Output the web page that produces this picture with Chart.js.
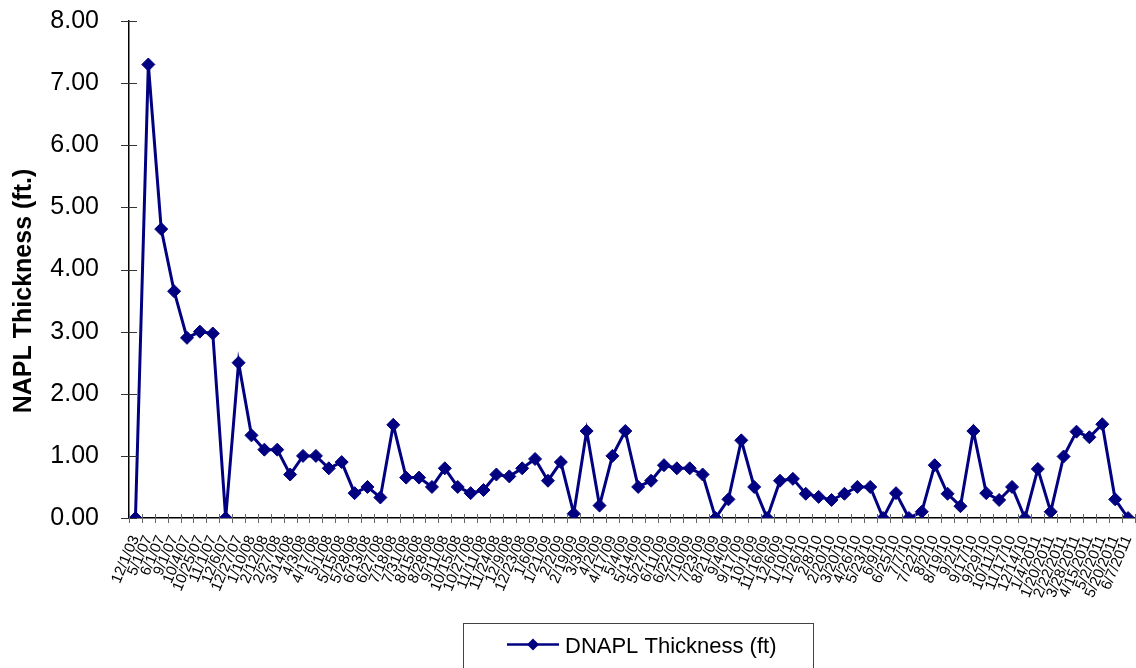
<!DOCTYPE html>
<html>
<head>
<meta charset="utf-8">
<script src="https://cdn.jsdelivr.net/npm/chart.js@4.4.1/dist/chart.umd.min.js"></script>
<style>
  html, body { margin: 0; padding: 0; background: #fff; overflow: hidden; }
  #wrap { width: 1142px; height: 668px; }
</style>
</head>
<body>
<div id="wrap"><canvas id="grafico" width="1142" height="668"></canvas></div>
<script>
// Datas das medições (eixo X)
const datas = [
  '12/1/03', '5/1/07', '6/1/07', '9/1/07', '10/4/07', '10/25/07', '11/1/07', '12/6/07', '12/27/07',
  '1/10/08', '2/12/08', '2/27/08', '3/14/08', '4/3/08', '4/17/08', '5/1/08', '5/15/08', '5/28/08',
  '6/13/08', '6/27/08', '7/18/08', '7/31/08', '8/15/08', '8/28/08', '9/11/08', '10/15/08', '10/27/08',
  '11/11/08', '11/24/08', '12/9/08', '12/23/08', '1/6/09', '1/21/09', '2/2/09', '2/19/09', '3/3/09',
  '4/2/09', '4/17/09', '5/4/09', '5/14/09', '5/27/09', '6/11/09', '6/22/09', '7/10/09', '7/23/09',
  '8/21/09', '9/4/09', '9/17/09', '10/1/09', '11/16/09', '12/6/09', '1/10/10', '1/26/10', '2/8/10',
  '2/20/10', '3/20/10', '4/26/10', '5/23/10', '6/9/10', '6/25/10', '7/7/10', '7/22/10', '8/2/10',
  '8/19/10', '9/2/10', '9/17/10', '9/29/10', '10/11/10', '11/17/10', '12/14/10', '1/4/2011',
  '1/20/2011', '2/22/2011', '3/28/2011', '4/15/2011', '5/2/2011', '5/20/2011', '6/7/2011'
];

// Espessura de DNAPL (ft)
const espessura = [
  0, 7.3, 4.65, 3.65, 2.9, 3.0, 2.97, 0, 2.5,
  1.33, 1.1, 1.1, 0.7, 1.0, 1.0, 0.8, 0.9, 0.4,
  0.5, 0.33, 1.5, 0.65, 0.65, 0.5, 0.8, 0.5, 0.4,
  0.45, 0.7, 0.67, 0.8, 0.95, 0.6, 0.9, 0.07, 1.4,
  0.2, 1.0, 1.4, 0.5, 0.6, 0.85, 0.8, 0.8, 0.7,
  0, 0.3, 1.25, 0.5, 0, 0.6, 0.63, 0.39, 0.34,
  0.29, 0.39, 0.5, 0.5, 0, 0.4, 0, 0.1, 0.85,
  0.39, 0.19, 1.4, 0.4, 0.29, 0.5, 0, 0.79,
  0.1, 0.99, 1.39, 1.3, 1.51, 0.3, 0
];

// Eixo Y
const yMin = 0;
const yMax = 8;
const yPasso = 1;

const tituloY = 'NAPL Thickness (ft.)';
const nomeSerie = 'DNAPL Thickness (ft)';
const corSerie = '#000080';
const fonte = 'Arial, "Liberation Sans", sans-serif';

// Marcas dos eixos cruzando a linha (estilo Excel) + título Y + legenda com borda
const extrasPlugin = {
    id: 'extras',
    afterDraw(chart) {
        const ctx = chart.ctx;
        const area = chart.chartArea;
        const x = chart.scales.x;
        const y = chart.scales.y;
        ctx.save();

        // marcas do eixo Y
        ctx.strokeStyle = '#333';
        ctx.lineWidth = 1;
        for (let v = yMin; v <= yMax; v += yPasso) {
            const py = Math.round(y.getPixelForValue(v)) + 0.5;
            ctx.beginPath();
            ctx.moveTo(area.left - 8, py);
            ctx.lineTo(area.left + 8, py);
            ctx.stroke();
        }

        // marcas do eixo X (entre categorias)
        ctx.strokeStyle = '#666';
        const meio = (x.getPixelForValue(1) - x.getPixelForValue(0)) / 2;
        for (let i = 0; i <= datas.length; i++) {
            const px = Math.round(x.getPixelForValue(i) - meio) + 0.5;
            ctx.beginPath();
            ctx.moveTo(px, area.bottom - 4);
            ctx.lineTo(px, area.bottom + 5);
            ctx.stroke();
        }

        // título do eixo Y
        ctx.save();
        ctx.translate(24.5, 291);
        ctx.rotate(-Math.PI / 2);
        ctx.font = 'bold 25px ' + fonte;
        ctx.fillStyle = '#000';
        ctx.textAlign = 'center';
        ctx.textBaseline = 'middle';
        ctx.fillText(tituloY, 0, 0);
        ctx.restore();

        // legenda
        ctx.strokeStyle = '#444';
        ctx.lineWidth = 1;
        ctx.strokeRect(463.5, 623.5, 350, 60);
        ctx.strokeStyle = corSerie;
        ctx.lineWidth = 2.5;
        ctx.beginPath();
        ctx.moveTo(507, 644.5);
        ctx.lineTo(559, 644.5);
        ctx.stroke();
        ctx.fillStyle = corSerie;
        ctx.beginPath();
        ctx.moveTo(533, 638.5);
        ctx.lineTo(539, 644.5);
        ctx.lineTo(533, 650.5);
        ctx.lineTo(527, 644.5);
        ctx.closePath();
        ctx.fill();
        ctx.fillStyle = '#000';
        ctx.font = '22px ' + fonte;
        ctx.textAlign = 'left';
        ctx.textBaseline = 'alphabetic';
        ctx.fillText(nomeSerie, 565, 653);

        ctx.restore();
    }
};

const ctx = document.getElementById('grafico').getContext('2d');
new Chart(ctx, {
    type: 'line',
    data: {
        labels: datas,
        datasets: [{
            label: nomeSerie,
            data: espessura,
            borderColor: corSerie,
            backgroundColor: corSerie,
            borderWidth: 3,
            pointStyle: 'rectRot',
            pointRadius: 6.5,
            pointBorderWidth: 1,
            pointBackgroundColor: corSerie,
            pointBorderColor: corSerie,
            tension: 0,
            fill: false
        }]
    },
    options: {
        responsive: false,
        animation: false,
        layout: { padding: { top: 21, left: 0, right: 0, bottom: 0 } },
        plugins: {
            legend: { display: false },
            tooltip: { enabled: false }
        },
        scales: {
            x: {
                type: 'category',
                offset: true,
                grid: { display: false },
                border: { display: true, color: '#000', width: 1.5 },
                ticks: {
                    autoSkip: false,
                    minRotation: 67,
                    maxRotation: 67,
                    padding: 7,
                    color: '#000',
                    font: { family: fonte, size: 15 }
                },
                afterFit(scale) {
                    scale.height = 150;
                    scale.paddingLeft = 0;
                    scale.paddingRight = 0;
                }
            },
            y: {
                min: yMin,
                max: yMax,
                grid: { display: false },
                border: { display: true, color: '#000', width: 1.5 },
                ticks: {
                    stepSize: yPasso,
                    padding: 22,
                    color: '#000',
                    font: { family: fonte, size: 25 },
                    callback: (v) => Number(v).toFixed(2)
                },
                afterFit(scale) {
                    scale.width = 129;
                    scale.paddingTop = 0;
                    scale.paddingBottom = 0;
                }
            }
        }
    },
    plugins: [extrasPlugin]
});
</script>
</body>
</html>
